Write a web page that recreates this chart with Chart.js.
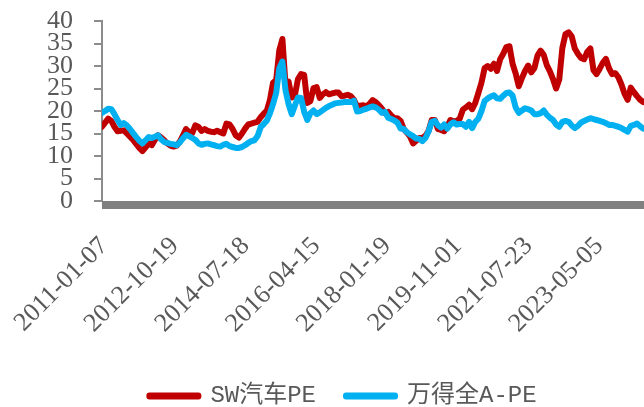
<!DOCTYPE html>
<html>
<head>
<meta charset="utf-8">
<script src="https://cdn.jsdelivr.net/npm/chart.js@4.4.1/dist/chart.umd.min.js"></script>
<style>
  html, body { margin: 0; padding: 0; background: #fff; }
  #wrap { width: 644px; height: 407px; }
</style>
</head>
<body>
<div id="wrap"><canvas id="peChart"></canvas></div>
<script>
// labelled dates on the x axis (one every 91 weeks)
const tickDates = ["2011-01-07", "2012-10-19", "2014-07-18", "2016-04-15", "2018-01-19", "2019-11-01", "2021-07-23", "2023-05-05"];
const tickStep = 91;
const sampleStep = 4; // weeks between samples
const lastWeek = 697;

const swAutoPE = [
    16.5, 17.4, 18.3, 17.8, 16.5, 15.5, 15.6, 15.7, 15.0, 14.3,
    13.6, 12.7, 11.8, 11.1, 11.9, 12.8, 12.4, 13.6, 14.6, 14.1,
    13.5, 12.8, 12.3, 12.1, 12.3, 13.2, 14.5, 16.0, 15.3, 15.1,
    16.8, 16.5, 15.6, 16.0, 15.6, 15.4, 15.3, 15.6, 15.3, 15.0,
    17.2, 17.0, 16.0, 14.6, 14.1, 15.0, 16.1, 17.0, 17.2, 17.4,
    17.6, 18.6, 19.4, 20.1, 22.5, 26.3, 26.9, 33.5, 36.0, 25.8,
    26.5, 23.0, 23.5, 27.1, 28.2, 28.0, 21.8, 22.2, 25.1, 25.3,
    22.9, 23.7, 24.2, 23.7, 23.9, 24.1, 24.1, 23.3, 23.4, 23.6,
    23.3, 22.5, 21.0, 21.2, 21.3, 21.0, 21.6, 22.4, 22.0, 21.3,
    20.5, 19.5, 19.8, 19.0, 18.4, 18.4, 17.8, 16.0, 15.2, 14.4,
    12.8, 13.4, 14.0, 14.0, 14.5, 15.6, 18.0, 18.0, 16.0, 15.8,
    15.5, 16.5, 18.0, 17.7, 17.8, 18.3, 20.3, 20.8, 21.4, 20.4,
    21.8, 24.0, 26.3, 29.5, 30.0, 29.4, 30.5, 28.9, 31.5, 32.7,
    34.2, 34.4, 30.5, 28.3, 25.5, 27.3, 28.9, 30.1, 28.6, 29.5,
    32.3, 33.4, 32.5, 30.2, 28.8, 27.1, 25.0, 27.0, 34.0, 37.1,
    37.5, 36.6, 33.9, 32.7, 31.8, 31.5, 33.1, 33.9, 29.1, 28.2,
    29.4, 30.7, 31.6, 29.5, 28.2, 28.4, 27.5, 25.9, 23.8, 22.5,
    25.2, 24.2, 23.3, 22.5, 22.0
];

const windAllAPE = [
    19.6, 20.0, 20.5, 20.4, 19.3, 18.0, 16.9, 17.3, 16.8, 16.0,
    15.1, 14.2, 13.4, 12.8, 13.5, 14.2, 14.0, 14.3, 14.6, 13.7,
    13.1, 12.9, 12.7, 12.6, 12.4, 13.0, 13.9, 14.7, 14.4, 14.0,
    13.6, 12.8, 12.5, 12.7, 12.8, 12.6, 12.4, 12.2, 12.1, 12.5,
    12.7, 12.2, 12.0, 11.8, 11.8, 12.0, 12.4, 12.9, 13.3, 13.5,
    14.4, 16.4, 17.1, 17.9, 19.5, 21.6, 24.0, 29.5, 31.0, 24.6,
    21.5, 19.3, 21.2, 23.0, 22.9, 19.8, 18.0, 19.5, 20.1, 19.3,
    19.7, 20.2, 20.7, 21.1, 21.4, 21.7, 21.8, 21.9, 22.0, 22.0,
    22.0, 22.3, 19.9, 20.0, 20.3, 20.5, 20.8, 21.0, 20.8, 20.3,
    19.6, 19.8, 18.5, 18.2, 17.9, 17.4, 16.1, 16.0, 15.3, 14.8,
    14.4, 13.9, 13.8, 13.3, 14.0, 15.5, 17.6, 17.8, 16.8, 16.3,
    17.0, 16.1, 17.0, 17.5, 17.0, 17.1, 17.1, 16.5, 17.6, 16.2,
    17.6, 18.3, 20.0, 22.2, 22.8, 23.2, 23.5, 22.8, 22.7, 23.4,
    24.0, 24.1, 23.4, 20.8, 19.6, 20.1, 20.6, 20.4, 20.1, 19.3,
    19.3, 19.5, 20.1, 19.2, 18.5, 18.0, 17.0, 16.5, 17.6, 17.8,
    17.6, 16.8, 16.2, 16.7, 17.4, 17.8, 18.1, 18.4, 18.2, 18.0,
    17.8, 17.6, 17.3, 16.9, 16.9, 16.7, 16.5, 16.2, 15.8, 15.4,
    16.7, 16.9, 17.2, 16.6, 16.1
];

const toPoints = (arr) => arr.map((v, i) => ({ x: i * sampleStep, y: v }));

// gray band under the zero line
const axisBand = {
    id: "axisBand",
    afterDraw(chart) {
        const { ctx, chartArea } = chart;
        ctx.save();
        ctx.fillStyle = "#808080";
        ctx.fillRect(chartArea.left, chartArea.bottom, chartArea.right - chartArea.left, 8);
        ctx.restore();
    },
};

const tickFont = { family: "'Liberation Serif', 'Times New Roman', serif", size: 26 };

new Chart(document.getElementById("peChart"), {
    type: "line",
    data: {
        datasets: [
            {
                label: "SW汽车PE",
                data: toPoints(swAutoPE),
                borderColor: "#C00000",
                backgroundColor: "#C00000",
                borderWidth: 6,
                order: 1,
            },
            {
                label: "万得全A-PE",
                data: toPoints(windAllAPE),
                borderColor: "#00B0F0",
                backgroundColor: "#00B0F0",
                borderWidth: 6,
                order: 0,
            },
        ],
    },
    options: {
        responsive: true,
        maintainAspectRatio: false,
        animation: false,
        elements: {
            point: { radius: 0 },
            line: { tension: 0, borderJoinStyle: "round", borderCapStyle: "round" },
        },
        layout: { padding: { top: 21, left: 42, right: 0, bottom: -11 } },
        scales: {
            x: {
                type: "linear",
                min: 0,
                max: lastWeek,
                grid: { display: false, drawTicks: false },
                border: { display: false },
                afterBuildTicks: (scale) => {
                    scale.ticks = tickDates.map((d, i) => ({ value: i * tickStep }));
                },
                afterFit: (scale) => {
                    scale.height = 153;
                    scale.paddingLeft = 0;
                    scale.paddingRight = 0;
                },
                ticks: {
                    autoSkip: false,
                    minRotation: 45,
                    maxRotation: 45,
                    padding: 30,
                    labelOffset: 2,
                    color: "#595959",
                    font: tickFont,
                    callback: (value, index) => tickDates[index],
                },
            },
            y: {
                min: 0,
                max: 40,
                afterFit: (scale) => {
                    scale.width = 60;
                    scale.paddingTop = 0;
                    scale.paddingBottom = 0;
                },
                grid: { drawOnChartArea: false, drawTicks: true, tickLength: 8, color: "#8c8c8c", lineWidth: 2 },
                border: { display: true, color: "#8c8c8c", width: 2 },
                ticks: { stepSize: 5, autoSkip: false, padding: 21, color: "#595959", font: tickFont },
            },
        },
        plugins: {
            legend: {
                position: "bottom",
                labels: {
                    boxWidth: 49,
                    boxHeight: 1,
                    padding: 30,
                    color: "#595959",
                    font: { family: "'Liberation Mono', 'Noto Sans CJK SC', monospace", size: 24 },
                    sort: (a, b) => a.datasetIndex - b.datasetIndex,
                },
            },
            tooltip: { enabled: false },
        },
    },
    plugins: [axisBand],
});
</script>
</body>
</html>
